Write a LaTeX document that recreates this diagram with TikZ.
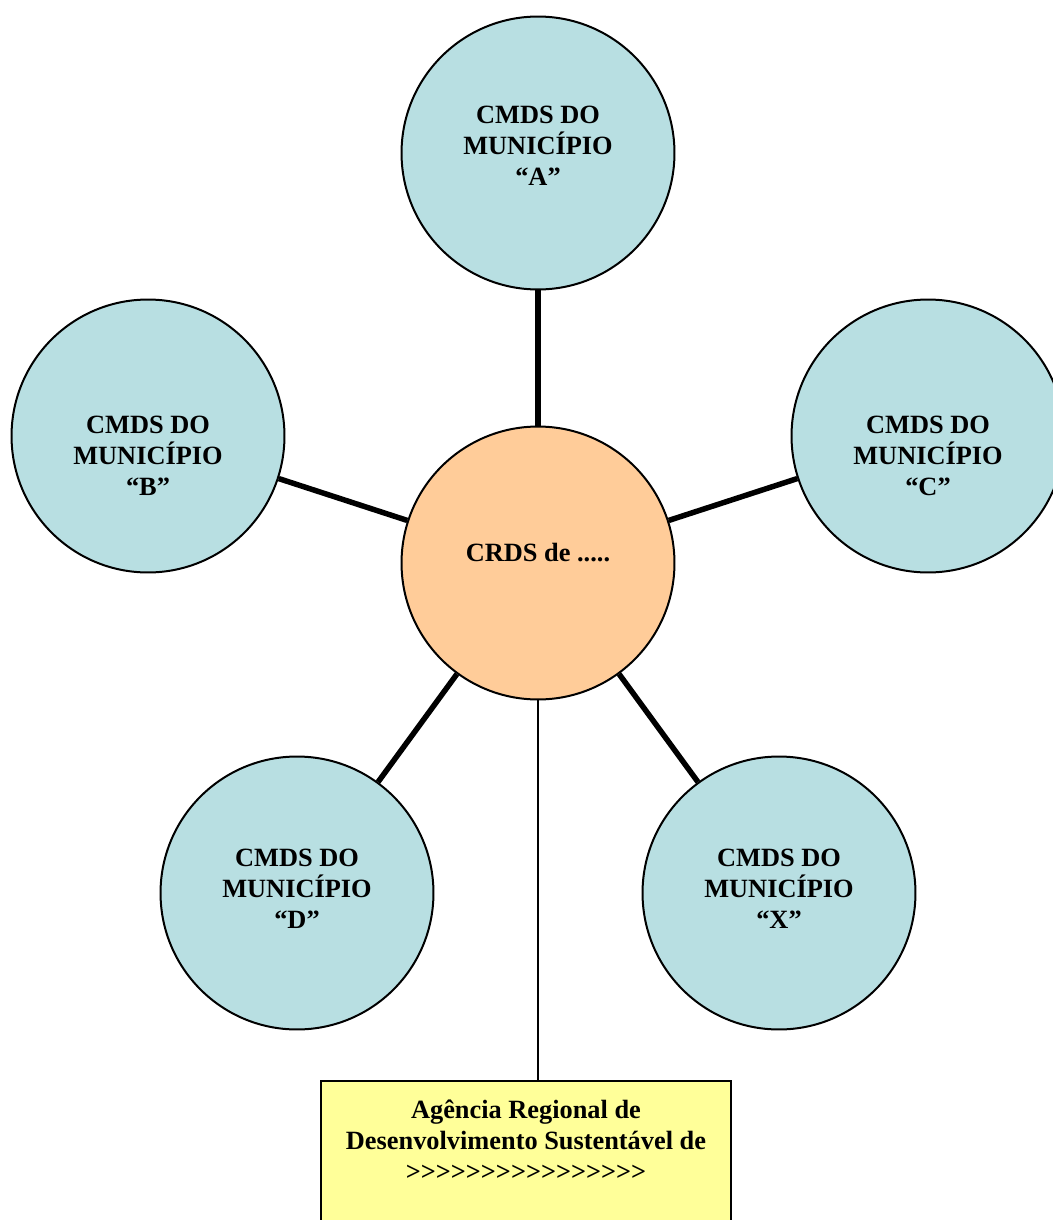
\documentclass[tikz,border=0pt]{standalone}
\usepackage{fontspec}
\newfontfamily\timesbold{Liberation Serif}
\usepackage{tikz}
\definecolor{municblue}{RGB}{184,223,226}
\definecolor{huborange}{RGB}{255,204,153}
\definecolor{agencyellow}{RGB}{255,255,153}

\begin{document}
\begin{tikzpicture}[x=0.02cm, y=-0.02cm,
    caption/.style={align=center, inner sep=0pt, font=\timesbold\bfseries\fontsize{15}{17.6}\selectfont},
    munic/.style={circle, draw, line width=0.04cm, fill=municblue, minimum size=5.46cm, inner sep=0pt},
    hubnode/.style={circle, draw, line width=0.04cm, fill=huborange, minimum size=5.46cm, inner sep=0pt},
    agencybox/.style={rectangle, draw, line width=0.05cm, fill=agencyellow, minimum width=8.2cm, minimum height=3.6cm, inner sep=0pt},
    spoke/.style={line width=0.11cm},
    feed/.style={line width=0.035cm}]
    \useasboundingbox (0,0) rectangle (1053,1220);
    \node (hub)   at (538,563) [hubnode, label={[caption, yshift=0.21cm]center:CRDS de .....}] {};
    \node (muniA) at (538,153) [munic, label={[caption, yshift=0.15cm]center:CMDS DO\\MUNICÍPIO\\“A”}] {};
    \node (muniB) at (148,436) [munic, label={[caption, yshift=-0.4cm]center:CMDS DO\\MUNICÍPIO\\“B”}] {};
    \node (muniC) at (928,436) [munic, label={[caption, yshift=-0.4cm]center:CMDS DO\\MUNICÍPIO\\“C”}] {};
    \node (muniD) at (297,893) [munic, label={[caption, yshift=0.08cm]center:CMDS DO\\MUNICÍPIO\\“D”}] {};
    \node (muniX) at (779,893) [munic, label={[caption, yshift=0.08cm]center:CMDS DO\\MUNICÍPIO\\“X”}] {};
    \node (agencia) at (526,1171) [agencybox, label={[caption, yshift=0.61cm]center:Agência Regional de\\Desenvolvimento Sustentável de\\>>>>>>>>>>>>>>>>}] {};
    \draw[spoke] (hub) -- (muniA);
    \draw[spoke] (hub) -- (muniB);
    \draw[spoke] (hub) -- (muniC);
    \draw[spoke] (hub) -- (muniD);
    \draw[spoke] (hub) -- (muniX);
    \draw[feed] (hub.south) -- (hub.south |- agencia.north);
\end{tikzpicture}
\end{document}
